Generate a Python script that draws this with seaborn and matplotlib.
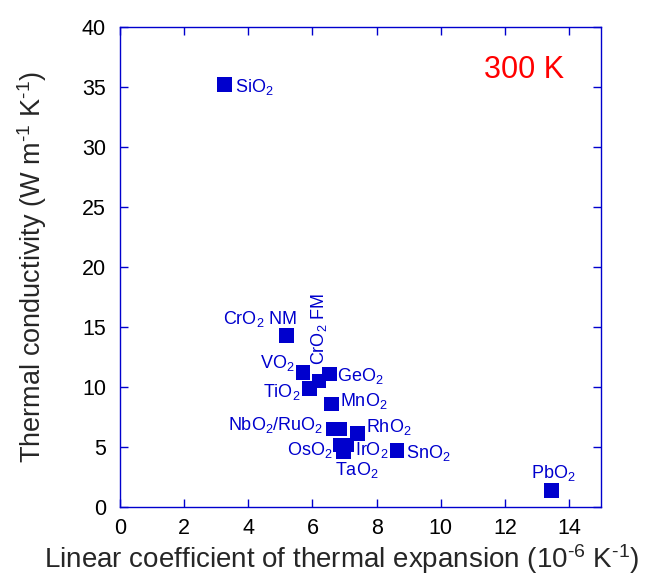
import matplotlib
matplotlib.use('Agg')
import matplotlib.pyplot as plt
import seaborn as sns
import pandas as pd

# Data (x: 1e-6 K^-1, y: W m^-1 K^-1)
materials = ['SiO$_2$', 'CrO$_2$ NM', 'CrO$_2$ FM', 'VO$_2$', 'GeO$_2$', 'TiO$_2$',
             'MnO$_2$', 'NbO$_2$/RuO$_2$', 'NbO2b', 'RhO$_2$', 'OsO$_2$', 'IrO$_2$',
             'TaO$_2$', 'SnO$_2$', 'PbO$_2$']
expansion = [3.25, 5.2, 6.21, 5.7, 6.53, 5.9, 6.6, 6.65, 6.86, 7.41, 6.86, 7.07, 6.96, 8.63, 13.46]
conductivity = [35.2, 14.3, 10.5, 11.2, 11.06, 9.86, 8.56, 6.5, 6.5, 6.14, 5.17, 5.17, 4.6, 4.69, 1.36]

# label placement (offset in pixels, ha, va, rotation)
label_pos = {
    'SiO$_2$': (11, -2, 'left', 'center', 0),
    'CrO$_2$ NM': (10, 16, 'right', 'center', 0),
    'CrO$_2$ FM': (0, 16, 'center', 'bottom', 90),
    'VO$_2$': (-8, 10, 'right', 'center', 0),
    'GeO$_2$': (8, -2, 'left', 'center', 0),
    'TiO$_2$': (-9, -3, 'right', 'center', 0),
    'MnO$_2$': (8, 3, 'left', 'center', 0),
    'NbO$_2$/RuO$_2$': (-10, 4, 'right', 'center', 0),
    'RhO$_2$': (8, 6, 'left', 'center', 0),
    'OsO$_2$': (-7, -5, 'right', 'center', 0),
    'IrO$_2$': (8, -5, 'left', 'center', 0),
    'TaO$_2$': (-8, -18, 'left', 'center', 0),
    'SnO$_2$': (9, -2, 'left', 'center', 0),
    'PbO$_2$': (2, 18, 'center', 'center', 0),
}

blue = '#0000CD'

sns.set_style('ticks')
plt.rcParams['font.family'] = ['Liberation Sans', 'DejaVu Sans']
plt.rcParams['mathtext.fontset'] = 'custom'
plt.rcParams['mathtext.rm'] = 'Liberation Sans'
plt.rcParams['mathtext.it'] = 'Liberation Sans'

df = pd.DataFrame({'x': expansion, 'y': conductivity, 'name': materials})

fig = plt.figure(figsize=(6.45, 5.76), dpi=100)
ax = fig.add_axes([0.186, 0.12, 0.746, 0.833])
sns.scatterplot(data=df, x='x', y='y', marker='s', s=110, color=blue,
                edgecolor='none', ax=ax, zorder=3)

for name, x, y in zip(materials, expansion, conductivity):
    if name not in label_pos:
        continue
    dx, dy, ha, va, rot = label_pos[name]
    ax.annotate(name, (x, y), xytext=(dx, dy), textcoords='offset pixels',
                ha=ha, va=va, rotation=rot, color=blue, fontsize=13)

ax.text(12.6, 36.4, '300 K', color='red', fontsize=22, ha='center', va='center')

ax.set_xlim(0, 15)
ax.set_ylim(0, 40)
ax.set_xticks(range(0, 16, 2))
ax.set_yticks(range(0, 41, 5))
ax.tick_params(direction='in', top=True, right=True, length=6, width=1,
               color=blue, labelsize=15.5, labelcolor='black')
ax.tick_params(axis='y', pad=10)
ax.tick_params(axis='x', pad=8)
for sp in ax.spines.values():
    sp.set_color(blue)
    sp.set_linewidth(1)
    sp.set_visible(True)

ax.set_xlabel('Linear coefficient of thermal expansion (10$^{\\text{-}6}$ K$^{\\text{-}1}$)',
              fontsize=20)
ax.set_ylabel('Thermal conductivity (W m$^{\\text{-}1}$ K$^{\\text{-}1}$)', fontsize=19.5)
ax.xaxis.set_label_coords(0.46, -0.074)
ax.yaxis.set_label_coords(-0.147, 0.5)

fig.savefig('out.png', dpi=100)
